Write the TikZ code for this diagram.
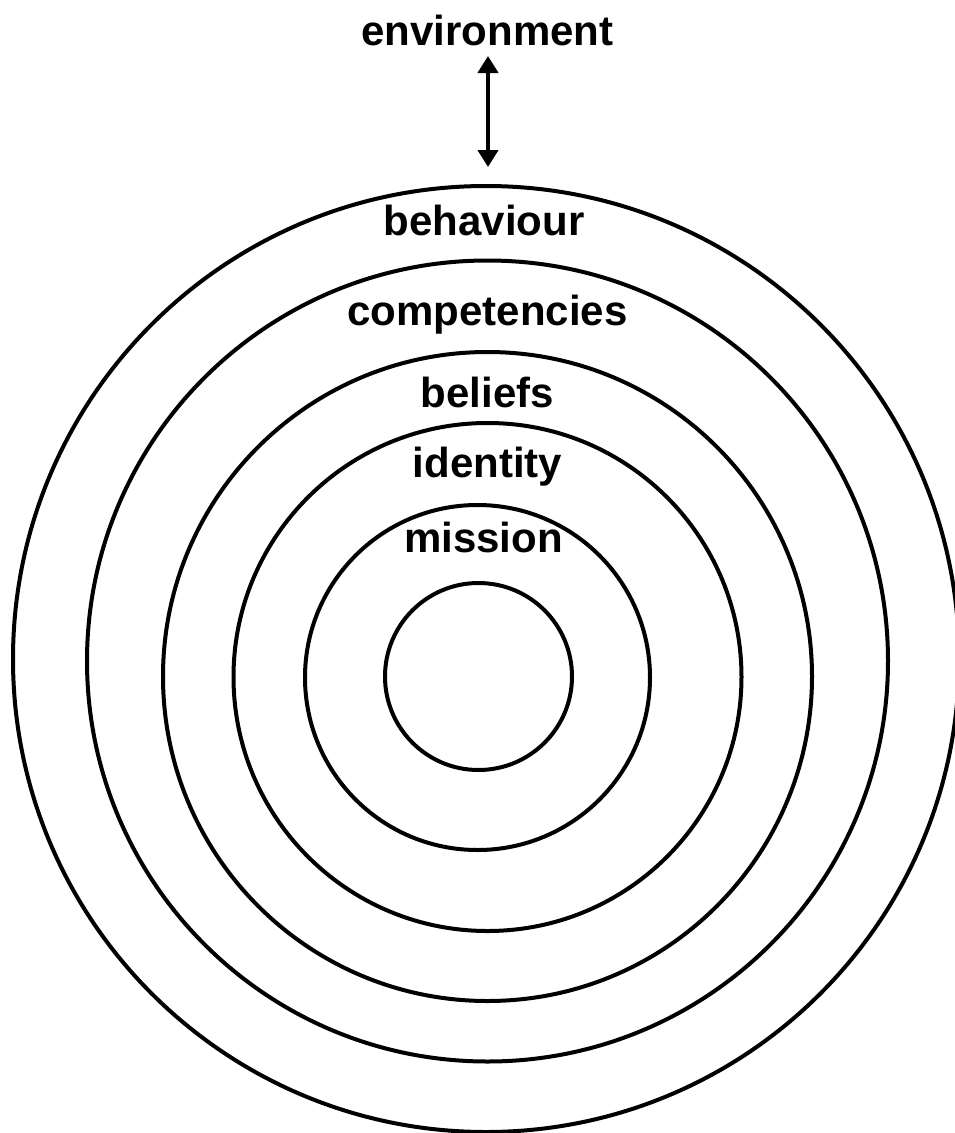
\documentclass[tikz,border=0pt]{standalone}
\usepackage{fontspec}
\setmainfont{Liberation Sans}
\usetikzlibrary{arrows.meta}
\begin{document}
\begin{tikzpicture}[x=1pt,y=-1pt,
  ring/.style={draw=black,line width=4pt,circle,inner sep=0pt,outer sep=0pt},
  lbl/.style={anchor=base,inner sep=0pt,font=\bfseries\fontsize{42}{48}\selectfont},
  link/.style={line width=4.2pt,{Triangle[width=20pt,length=17pt]}-{Triangle[width=20pt,length=17pt]}}]
\useasboundingbox (0,0) rectangle (955,1133);
\node[ring,minimum size=946pt] (c6) at (486,659) {};
\node[ring,minimum size=801pt] (c5) at (487.5,661) {};
\node[ring,minimum size=649pt] (c4) at (487.5,676.5) {};
\node[ring,minimum size=508pt] (c3) at (487.5,677) {};
\node[ring,minimum size=345pt] (c2) at (477.5,677.5) {};
\node[ring,minimum size=187pt] (c1) at (478.5,676.5) {};
\node[lbl] (env) at (487.5,45) {environment};
\node[lbl] (beh) at (484,235.5) {behaviour};
\node[lbl] (comp) at (487.5,325) {competencies};
\node[lbl] (bel) at (487.5,407) {beliefs};
\node[lbl] (ide) at (487.5,477) {identity};
\node[lbl] (mis) at (483.5,552) {mission};
\coordinate (atop) at (488,56);
\coordinate (abot) at (488,167);
\draw[link] (atop) -- (abot);
\end{tikzpicture}
\end{document}
